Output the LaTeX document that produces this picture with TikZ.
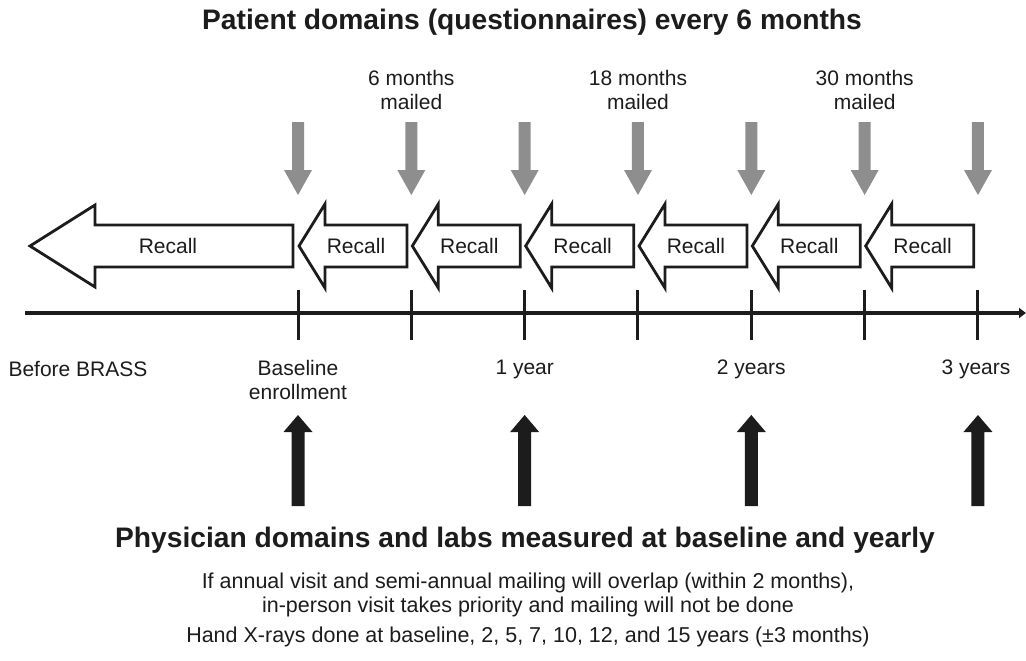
\documentclass[tikz,border=0pt]{standalone}
\usepackage{fontspec}
\setmainfont{Liberation Sans}
\usepackage{xcolor}
\usetikzlibrary{arrows.meta}
\definecolor{inkblack}{HTML}{1C1C1C}
\definecolor{mailgray}{HTML}{8E8E8E}

\begin{document}
\begin{tikzpicture}[x=1pt, y=-1pt,
    txt/.style={font=\fontsize{21}{24}\selectfont, text=inkblack, align=center, inner sep=0pt},
    notetxt/.style={txt, font=\fontsize{21.5}{23.5}\selectfont},
    headline/.style={font=\fontsize{28.2}{32}\selectfont\bfseries, text=inkblack, inner sep=0pt},
    recallbox/.style={draw=inkblack, fill=white, line width=2.8pt, line join=miter}]

\useasboundingbox (0,0) rectangle (1026,661);

% Title
\node[headline] (patient) at (532,22) {Patient domains (questionnaires) every 6 months};

% Mailing labels
\node[txt] (mail6)  at (411.3,90) {6 months\\mailed};
\node[txt] (mail18) at (638,90)   {18 months\\mailed};
\node[txt] (mail30) at (864.7,90) {30 months\\mailed};

% Questionnaire arrows - gray
\foreach \i in {0,...,6}{
    \fill[mailgray]
        ({292+113.33*\i},122) -- ({304+113.33*\i},122) --
        ({304+113.33*\i},170) -- ({312+113.33*\i},170) --
        ({298+113.33*\i},195) --
        ({284+113.33*\i},170) -- ({292+113.33*\i},170) -- cycle;
}

% Recall arrows
\draw[recallbox]
    (30,246) -- (95,205) -- (95,225) -- (293,225) --
    (293,267) -- (95,267) -- (95,287) -- cycle;
\node[txt] (recallpre) at (168,246) {Recall};
\foreach \i in {0,...,5}{
    \draw[recallbox]
        ({299+113.33*\i},246) -- ({325+113.33*\i},204) --
        ({325+113.33*\i},225) -- ({407+113.33*\i},225) --
        ({407+113.33*\i},267) -- ({325+113.33*\i},267) --
        ({325+113.33*\i},288) -- cycle;
    \node[txt] (recall\i) at ({356+113.33*\i},246) {Recall};
}

% Timeline
\coordinate (tlstart) at (25,313);
\coordinate (tlend) at (1026,313);
\draw[inkblack, line width=3.4pt, -{Triangle[length=7pt,width=10pt]}] (tlstart) -- (tlend);
\foreach \i in {0,...,6}{
    \draw[inkblack, line width=3pt]
        ({298+113.33*\i},290) -- ({298+113.33*\i},340);
}

% Time labels
\node[txt] (before)   at (78,369)    {Before BRASS};
\node[txt] (baseline) at (298,380)   {Baseline\\enrollment};
\node[txt] (year1)    at (524.7,369) {1 year};
\node[txt] (year2)    at (751.3,369) {2 years};
\node[txt] (year3)    at (976,369)   {3 years};

% Physician arrows - black
\foreach \i in {0,2,4,6}{
    \fill[inkblack]
        ({291.5+113.33*\i},506) -- ({304.5+113.33*\i},506) --
        ({304.5+113.33*\i},432) -- ({312.5+113.33*\i},432) --
        ({298+113.33*\i},415) --
        ({283.5+113.33*\i},432) -- ({291.5+113.33*\i},432) -- cycle;
}

% Bottom texts
\node[headline] (physician) at (525,540) {Physician domains and labs measured at baseline and yearly};
\node[notetxt] (overlap) at (528,595)
    {If annual visit and semi-annual mailing will overlap (within 2 months),\\in-person visit takes priority and mailing will not be done};
\node[notetxt] (xrays) at (528,637)
    {Hand X-rays done at baseline, 2, 5, 7, 10, 12, and 15 years (±3 months)};

\end{tikzpicture}
\end{document}
